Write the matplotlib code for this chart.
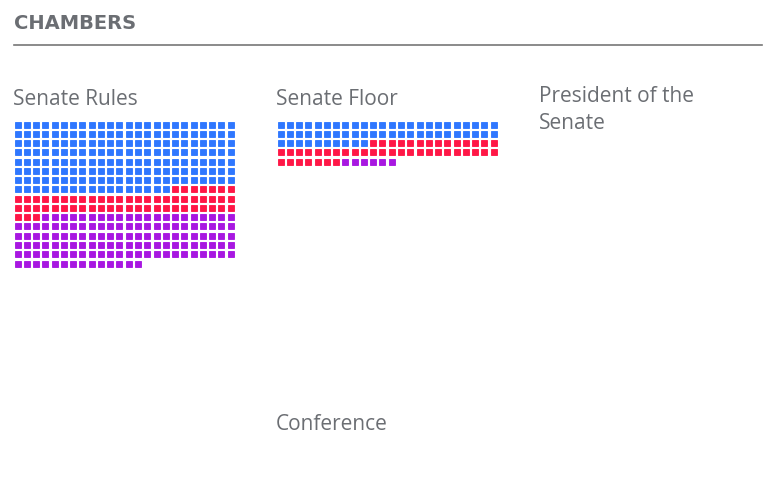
import matplotlib.pyplot as plt
from matplotlib.patches import Rectangle

# waffle data: counts per party in each chamber
parties = ['Dem', 'Rep', 'Other']
party_colors = ['#2470ff', '#ff0a3c', '#a30ae0']
rules_counts = [185, 58, 131]
floor_counts = [58, 45, 6]
columns = 24

panel_labels = ['Senate Rules', 'Senate Floor', 'President of the\nSenate', 'Conference']

plt.rcParams['font.family'] = ['Open Sans', 'DejaVu Sans']

fig = plt.figure(figsize=(7.76, 4.91), dpi=100)
ax = fig.add_axes([0, 0, 1, 1])
ax.set_xlim(0, 776)
ax.set_ylim(491, 0)
ax.axis('off')

text_color = '#6b6e73'
ax.text(14, 23, 'CHAMBERS', fontsize=14, fontweight='bold', color=text_color,
        va='center', ha='left', family=['DejaVu Sans'])
ax.plot([14, 762], [45, 45], color='#777777', lw=1.2)

label_pos = [(13, 99), (276, 99), (539, 86), (276, 424)]
for label, (x, y) in zip(panel_labels, label_pos):
    two_line = '\n' in label
    ax.text(x, y, label, fontsize=15, color=text_color,
            va='top' if two_line else 'center', ha='left',
            linespacing=1.35)


def draw_waffle(counts, x0, y0, pitch=9.27, size=6.0):
    i = 0
    for count, color in zip(counts, party_colors):
        for _ in range(count):
            r, c = divmod(i, columns)
            ax.add_patch(Rectangle((x0 + c * pitch, y0 + r * pitch), size, size,
                                   facecolor=color, edgecolor=color, lw=0.6,
                                   alpha=0.95))
            i += 1


draw_waffle(rules_counts, 14.5, 121.5)
draw_waffle(floor_counts, 277.5, 121.5)

fig.savefig('out.png', dpi=100)
